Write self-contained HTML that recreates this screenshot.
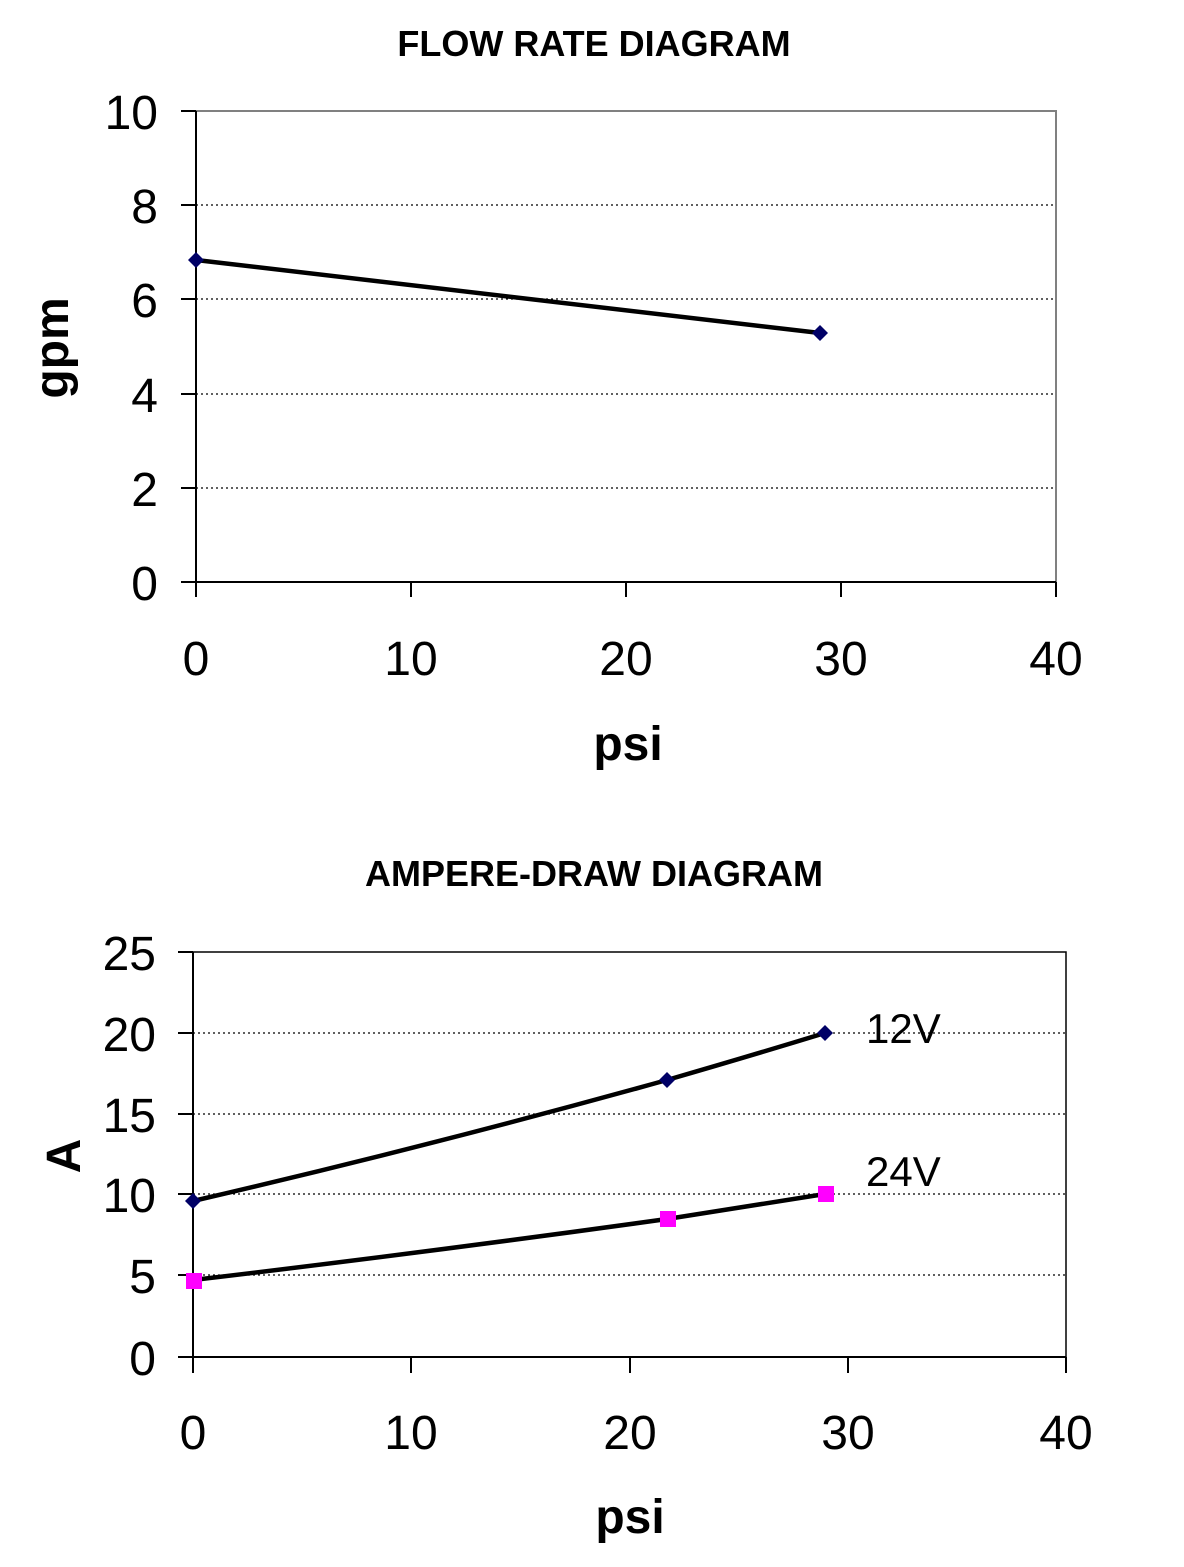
<!DOCTYPE html>
<html><head><style>body{margin:0;background:#fff}</style></head><body>
<svg width="1184" height="1562" xmlns="http://www.w3.org/2000/svg" font-family="Liberation Sans, sans-serif">
<rect width="1184" height="1562" fill="#fff"/>
<!-- Chart 1 -->
<text x="594" y="56" font-size="36" font-weight="bold" text-anchor="middle">FLOW RATE DIAGRAM</text>
<g stroke="#000" stroke-width="1.3" stroke-dasharray="2,3">
<line x1="196" y1="205" x2="1056" y2="205"/><line x1="196" y1="299" x2="1056" y2="299"/>
<line x1="196" y1="394" x2="1056" y2="394"/><line x1="196" y1="488" x2="1056" y2="488"/>
</g>
<polyline points="196,111 1056,111 1056,582" fill="none" stroke="#808080" stroke-width="2"/>
<g stroke="#000" stroke-width="2">
<line x1="196" y1="111" x2="196" y2="597"/><line x1="181" y1="582" x2="1056" y2="582"/>
<line x1="181" y1="111" x2="196" y2="111"/><line x1="181" y1="205" x2="196" y2="205"/><line x1="181" y1="299" x2="196" y2="299"/><line x1="181" y1="394" x2="196" y2="394"/><line x1="181" y1="488" x2="196" y2="488"/>
<line x1="411" y1="582" x2="411" y2="597"/><line x1="626" y1="582" x2="626" y2="597"/><line x1="841" y1="582" x2="841" y2="597"/><line x1="1056" y1="582" x2="1056" y2="597"/>
</g>
<g font-size="48" text-anchor="end">
<text x="158" y="129">10</text><text x="158" y="223">8</text><text x="158" y="317">6</text><text x="158" y="412">4</text><text x="158" y="506">2</text><text x="158" y="600">0</text>
</g>
<g font-size="48" text-anchor="middle">
<text x="196" y="675">0</text><text x="411" y="675">10</text><text x="626" y="675">20</text><text x="841" y="675">30</text><text x="1056" y="675">40</text>
</g>
<text x="628" y="760" font-size="48" font-weight="bold" text-anchor="middle">psi</text>
<text transform="translate(68,348) rotate(-90)" font-size="48" font-weight="bold" text-anchor="middle">gpm</text>
<line x1="196" y1="260" x2="820" y2="333" stroke="#000" stroke-width="4.5"/>
<path d="M196 252 L204 260 L196 268 L188 260Z M820 325 L828 333 L820 341 L812 333Z" fill="#000066"/>
<!-- Chart 2 -->
<text x="594" y="886" font-size="36" font-weight="bold" text-anchor="middle">AMPERE-DRAW DIAGRAM</text>
<g stroke="#000" stroke-width="1.3" stroke-dasharray="2,3">
<line x1="193" y1="1033" x2="1066" y2="1033"/><line x1="193" y1="1114" x2="1066" y2="1114"/>
<line x1="193" y1="1194" x2="1066" y2="1194"/><line x1="193" y1="1275" x2="1066" y2="1275"/>
</g>
<rect x="193" y="952" width="873" height="405" fill="none" stroke="#000" stroke-width="1.5"/>
<g stroke="#000" stroke-width="2">
<line x1="193" y1="952" x2="193" y2="1373"/><line x1="178" y1="1357" x2="1066" y2="1357"/>
<line x1="178" y1="952" x2="193" y2="952"/><line x1="178" y1="1033" x2="193" y2="1033"/><line x1="178" y1="1114" x2="193" y2="1114"/><line x1="178" y1="1194" x2="193" y2="1194"/><line x1="178" y1="1275" x2="193" y2="1275"/>
<line x1="411" y1="1357" x2="411" y2="1373"/><line x1="630" y1="1357" x2="630" y2="1373"/><line x1="848" y1="1357" x2="848" y2="1373"/><line x1="1066" y1="1357" x2="1066" y2="1373"/>
</g>
<g font-size="48" text-anchor="end">
<text x="156" y="970">25</text><text x="156" y="1051">20</text><text x="156" y="1132">15</text><text x="156" y="1212">10</text><text x="156" y="1293">5</text><text x="156" y="1375">0</text>
</g>
<g font-size="48" text-anchor="middle">
<text x="193" y="1449">0</text><text x="411" y="1449">10</text><text x="630" y="1449">20</text><text x="848" y="1449">30</text><text x="1066" y="1449">40</text>
</g>
<text x="630" y="1533" font-size="48" font-weight="bold" text-anchor="middle">psi</text>
<text transform="translate(80,1156) rotate(-90)" font-size="48" font-weight="bold" text-anchor="middle">A</text>
<path d="M193 1201 Q430 1146 667 1080 Q750 1056 825 1033" fill="none" stroke="#000" stroke-width="4.5"/>
<path d="M193 1280 Q430 1252 667 1219 Q750 1206 825 1194" fill="none" stroke="#000" stroke-width="4.5"/>
<path d="M193 1193 L201 1201 L193 1209 L185 1201Z M667 1072 L675 1080 L667 1088 L659 1080Z M825 1025 L833 1033 L825 1041 L817 1033Z" fill="#000066"/>
<g fill="#ff00ff"><rect x="186" y="1273" width="16" height="16"/><rect x="660" y="1211" width="16" height="16"/><rect x="818" y="1186" width="16" height="16"/></g>
<text x="866" y="1043" font-size="42">12V</text>
<text x="866" y="1186" font-size="42">24V</text>
</svg>
</body></html>
